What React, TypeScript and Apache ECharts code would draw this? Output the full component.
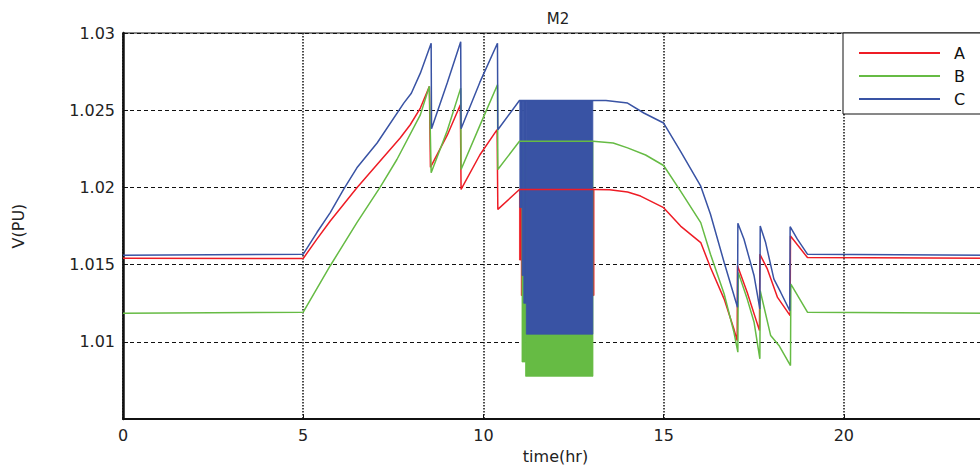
import React, { useEffect, useRef } from 'react';
import * as echarts from 'echarts';

// ---- data (time in hours, voltage in p.u.) ----
const seriesNames = ['A', 'B', 'C'];
const seriesColors = ['#ee1c25', '#66bb44', '#3953a4'];

const phaseA: number[][] = [
  [0, 1.01542], [5, 1.0154], [5.38, 1.01665], [5.75, 1.01783], [6.49, 1.01998],
  [7.05, 1.02148], [7.69, 1.0232], [7.97, 1.02406], [8.25, 1.02514],
  [8.5, 1.02654], [8.53, 1.0213], [9.0, 1.0234], [9.36, 1.02535], [9.38, 1.01987],
  [9.9, 1.0221], [10.38, 1.02374], [10.4, 1.01858], [11.0, 1.01987],
  [13.05, 1.01987], [13.5, 1.01985], [14.0, 1.0197], [14.36, 1.01944], [15.0, 1.01869],
  [15.47, 1.0175], [16.03, 1.01643], [16.3, 1.01482], [16.68, 1.01277], [16.95, 1.01084],
  [17.04, 1.01008], [17.05, 1.01493], [17.32, 1.0132], [17.66, 1.01073], [17.67, 1.01568],
  [17.88, 1.01471], [18.16, 1.01288], [18.51, 1.0117], [18.52, 1.01686], [18.99, 1.01546],
  [24, 1.01542],
];

const phaseB: number[][] = [
  [0, 1.01185], [5, 1.01192], [5.75, 1.01493], [6.49, 1.01772], [7.14, 1.02004],
  [7.6, 1.02181], [8.25, 1.0247], [8.5, 1.02655], [8.55, 1.02095], [9.0, 1.0237],
  [9.37, 1.02643], [9.38, 1.02116], [9.9, 1.0240], [10.39, 1.02665], [10.4, 1.02116],
  [11.0, 1.02299],
  [13.04, 1.02299], [13.6, 1.02288], [14.0, 1.02256], [14.5, 1.0221], [15.0, 1.02142],
  [15.47, 1.01976], [16.03, 1.01772], [16.3, 1.01568], [16.68, 1.0131], [16.95, 1.01063],
  [17.06, 1.00933], [17.07, 1.0145], [17.32, 1.01277], [17.51, 1.01127], [17.67, 1.0089],
  [17.68, 1.01331], [17.97, 1.01041], [18.2, 1.00977], [18.52, 1.00847], [18.53, 1.01374],
  [18.99, 1.01192], [24, 1.01185],
];

const phaseC: number[][] = [
  [0, 1.01561], [5, 1.01568], [5.38, 1.01708], [5.75, 1.01837], [6.12, 1.01987],
  [6.49, 1.02127], [7.05, 1.02288], [7.79, 1.02546], [8.0, 1.0261], [8.25, 1.0274],
  [8.55, 1.02934], [8.56, 1.0238], [9.0, 1.0268], [9.37, 1.02944], [9.38, 1.0238],
  [9.9, 1.0268], [10.39, 1.02934], [10.4, 1.02374], [11.0, 1.02563],
  [13.04, 1.02563], [13.4, 1.02563], [14.0, 1.02546], [14.45, 1.02482], [15.0, 1.02417],
  [15.47, 1.02234], [16.03, 1.02008], [16.3, 1.01826], [16.68, 1.01514], [17.05, 1.01224],
  [17.06, 1.01768], [17.23, 1.01665], [17.51, 1.01428], [17.67, 1.01213], [17.68, 1.0175],
  [17.83, 1.01643], [18.06, 1.01406], [18.25, 1.0132], [18.5, 1.01202], [18.51, 1.01746],
  [18.71, 1.01665], [18.99, 1.01568], [24, 1.01561],
];

// fast-oscillation envelopes: [tStart, tEnd, vLow, vHigh]
const bandA: number[][] = [
  [11.0, 11.05, 1.0153, 1.0199],
  [11.05, 13.07, 1.013, 1.0199],
];
const bandB: number[][] = [
  [11.07, 11.17, 1.0087, 1.023],
  [11.17, 13.04, 1.00777, 1.023],
];
const bandC: number[][] = [
  [11.01, 11.075, 1.0187, 1.0256],
  [11.075, 11.12, 1.0143, 1.0256],
  [11.12, 11.19, 1.0125, 1.0256],
  [11.19, 13.036, 1.0105, 1.0256],
];

const FONT = 'DejaVu Sans';

function bandSeries(name: string, data: number[][], color: string) {
  return {
    name,
    type: 'custom',
    data,
    encode: { x: [0, 1], y: [2, 3] },
    clip: true,
    renderItem: (_params: any, api: any) => {
      const p0 = api.coord([api.value(0), api.value(3)]);
      const p1 = api.coord([api.value(1), api.value(2)]);
      return {
        type: 'rect',
        shape: { x: p0[0], y: p0[1], width: p1[0] - p0[0], height: p1[1] - p0[1] },
        style: { fill: color, stroke: color, lineWidth: 0.8 },
      };
    },
  };
}

function lineSeries(name: string, data: number[][], color: string) {
  return {
    name,
    type: 'line',
    data,
    color,
    symbol: 'none',
    showSymbol: false,
    clip: true,
    lineStyle: { width: 1.5, color },
  };
}

export default function App() {
  const ref = useRef<HTMLDivElement>(null);

  useEffect(() => {
    if (!ref.current) return;
    const chart = echarts.init(ref.current, undefined, { renderer: 'svg' });
    const option: any = {
      animation: false,
      backgroundColor: '#ffffff',
      textStyle: { fontFamily: FONT },
      title: {
        text: 'M2',
        left: 553,
        textAlign: 'center',
        top: 6,
        textStyle: { fontFamily: FONT, fontSize: 15, fontWeight: 'normal', color: '#222' },
      },
      legend: {
        data: seriesNames,
        orient: 'vertical',
        left: 843,
        top: 33,
        backgroundColor: '#ffffff',
        borderColor: '#111',
        borderWidth: 1,
        borderRadius: 0,
        padding: [12, 16, 7, 16],
        itemWidth: 81,
        itemHeight: 2,
        itemGap: 7,
        icon: 'rect',
        textStyle: { fontFamily: FONT, fontSize: 16, color: '#111', lineHeight: 14, padding: [0, 0, 0, 9] },
        z: 20,
      },
      grid: {
        left: 123,
        right: 0,
        top: 33,
        bottom: 46,
        show: true,
        borderColor: '#111',
        borderWidth: 1,
        containLabel: false,
      },
      xAxis: {
        type: 'value',
        min: 0,
        max: 24,
        interval: 5,
        name: 'time(hr)',
        nameLocation: 'middle',
        nameGap: 24,
        nameTextStyle: { fontFamily: FONT, fontSize: 16, color: '#222' },
        axisLine: { show: true, lineStyle: { color: '#111', width: 2 } },
        axisTick: { show: true, inside: true, length: 5, lineStyle: { color: '#111' } },
        axisLabel: { fontFamily: FONT, fontSize: 16, color: '#222', margin: 8, showMaxLabel: false },
        splitLine: { show: true, lineStyle: { color: '#111', type: 'dotted', width: 1.5 } },
      },
      yAxis: {
        type: 'value',
        min: 1.005,
        max: 1.03,
        interval: 0.005,
        name: 'V(PU)',
        nameLocation: 'middle',
        nameGap: 97,
        nameRotate: 90,
        nameTextStyle: { fontFamily: FONT, fontSize: 16, color: '#222' },
        axisLine: { show: true, lineStyle: { color: '#111', width: 2.5 } },
        axisTick: { show: true, inside: true, length: 5, lineStyle: { color: '#111' } },
        axisLabel: { fontFamily: FONT, fontSize: 16, color: '#222', margin: 8, showMinLabel: false },
        splitLine: { show: true, lineStyle: { color: '#111', type: [4, 3], width: 1 } },
      },
      series: [
        lineSeries('A', phaseA, seriesColors[0]),
        bandSeries('A band', bandA, seriesColors[0]),
        lineSeries('B', phaseB, seriesColors[1]),
        bandSeries('B band', bandB, seriesColors[1]),
        lineSeries('C', phaseC, seriesColors[2]),
        bandSeries('C band', bandC, seriesColors[2]),
      ],
    };
    chart.setOption(option);
    return () => {
      chart.dispose();
    };
  }, []);

  // The plot frame continues slightly past the right edge of the 980px window,
  // as in the reference, so the chart surface is 988px wide and clipped by the viewport.
  return (
    <div
      ref={ref}
      style={{ position: 'fixed', left: 0, top: 0, width: 988, height: 469, background: '#fff' }}
    />
  );
}
